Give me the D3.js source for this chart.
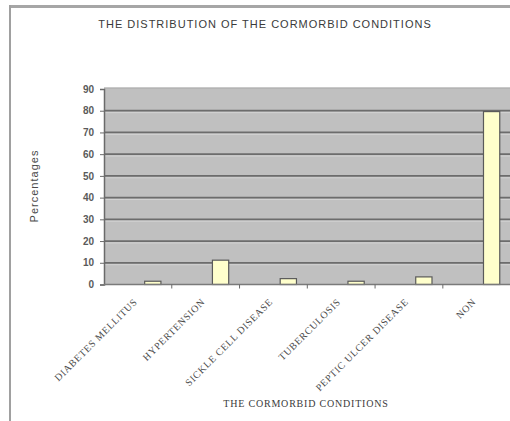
<!DOCTYPE html>
<html><head><meta charset="utf-8">
<script src="https://cdn.jsdelivr.net/npm/d3@7"></script>
<style>body{margin:0;background:#fff;overflow:hidden}svg{display:block}</style>
</head><body>
<script>
const categories = ["DIABETES MELLITUS","HYPERTENSION","SICKLE CELL DISEASE","TUBERCULOSIS","PEPTIC ULCER DISEASE","NON"];
const percentages = [1.5, 11.2, 2.7, 1.5, 3.5, 79.6];
const yTicks = [0,10,20,30,40,50,60,70,80,90];
const title = "THE DISTRIBUTION OF THE CORMORBID CONDITIONS";
const xTitle = "THE CORMORBID CONDITIONS";
const yTitle = "Percentages";

const W = 510, H = 421;
const svg = d3.select("body").append("svg").attr("width", W).attr("height", H);

// outer frame lines
svg.append("rect").attr("x", 9).attr("y", 5).attr("width", W - 9).attr("height", 3).attr("fill", "#a6a6a6");
svg.append("rect").attr("x", 9).attr("y", 5).attr("width", 2).attr("height", H - 5).attr("fill", "#a0a0a0");

const pL = 104, pR = 510.6, pT = 89, pB = 284.5;
const x = d3.scaleBand().domain(categories).range([pL, pR]);
const y = d3.scaleLinear().domain([0, 90]).range([pB, pT]);

// plot background
svg.append("rect").attr("x", pL).attr("y", pT - 1.5).attr("width", pR - pL).attr("height", pB - pT + 1.5)
  .attr("fill", "#c0c0c0");
svg.append("rect").attr("x", pL).attr("y", pT - 1.5).attr("width", pR - pL).attr("height", 1.5).attr("fill", "#b4b4b4");

// gridlines
const g = svg.append("g");
yTicks.filter(d => d > 0 && d < 90).forEach(d => {
  g.append("line").attr("x1", pL).attr("x2", pR).attr("y1", y(d)).attr("y2", y(d))
    .attr("stroke", "#6c6c6c").attr("stroke-width", 1.8);
  g.append("line").attr("x1", pL).attr("x2", pR).attr("y1", y(d) + 1.9).attr("y2", y(d) + 1.9)
    .attr("stroke", "#d2d2d2").attr("stroke-width", 1);
});

// bars
const bw = x.bandwidth();
svg.append("g").selectAll("rect").data(percentages).join("rect")
  .attr("x", (d, i) => x(categories[i]) + bw * 0.6)
  .attr("width", bw * 0.24)
  .attr("y", d => y(d))
  .attr("height", d => y(0) - y(d))
  .attr("fill", "#ffffcc").attr("stroke", "#5a5a5a").attr("stroke-width", 1.2);

// y axis
const ya = svg.append("g").attr("transform", `translate(${pL},0)`)
  .call(d3.axisLeft(y).tickValues(yTicks).tickSize(4).tickPadding(6));
ya.select(".domain").attr("stroke", "#6a6a6a").attr("stroke-width", 1.5);
ya.selectAll(".tick line").attr("stroke", "#6a6a6a");
ya.selectAll("text").attr("font-family", "Liberation Sans, Arial, sans-serif").attr("font-size", 10)
  .attr("font-weight", "bold").attr("fill", "#5a5a5a");

// x axis
const xa = svg.append("g").attr("transform", `translate(0,${pB})`);
xa.append("line").attr("x1", pL).attr("x2", pR).attr("stroke", "#7a7a7a").attr("stroke-width", 1.5);
const bounds = categories.map(c => x(c)).slice(1);
xa.selectAll(".tk").data(bounds).join("line").attr("class", "tk")
  .attr("x1", d => d).attr("x2", d => d).attr("y1", 0).attr("y2", 4).attr("stroke", "#6a6a6a");

// category labels
svg.append("g").selectAll("text").data(categories).join("text")
  .attr("transform", d => `translate(${x(d) + bw / 2},${pB + 18}) rotate(-45)`)
  .attr("text-anchor", "end")
  .attr("font-family", "Liberation Serif, Times New Roman, serif").attr("font-size", 10)
  .attr("letter-spacing", 0.7)
  .attr("fill", "#4a4a4a").text(d => d);

// titles
svg.append("text").attr("x", 265).attr("y", 28).attr("text-anchor", "middle")
  .attr("font-family", "Liberation Sans, Arial, sans-serif").attr("font-size", 11).attr("letter-spacing", 1)
  .attr("fill", "#3a3a3a").text(title);
svg.append("text").attr("x", 306).attr("y", 407).attr("text-anchor", "middle")
  .attr("font-family", "Liberation Serif, Times New Roman, serif").attr("font-size", 10).attr("letter-spacing", 0.8)
  .attr("fill", "#3a3a3a").text(xTitle);
svg.append("text").attr("transform", "translate(38,186) rotate(-90)").attr("text-anchor", "middle")
  .attr("font-family", "Liberation Sans, Arial, sans-serif").attr("font-size", 11).attr("letter-spacing", 1)
  .attr("fill", "#4a4a4a").text(yTitle);
</script>
</body></html>
